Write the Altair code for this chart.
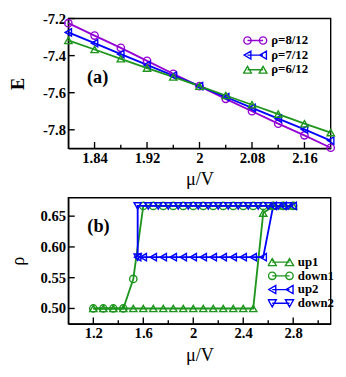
import altair as alt
import pandas as pd

# ---------------- Panel (a) data ----------------
mu_a = [1.80, 1.84, 1.88, 1.92, 1.96, 2.00, 2.04, 2.08, 2.12, 2.16, 2.20]
E_rho8 = [-7.225, -7.292, -7.358, -7.428, -7.498, -7.565, -7.633, -7.700, -7.767, -7.830, -7.897]
E_rho7 = [-7.275, -7.333, -7.392, -7.450, -7.508, -7.565, -7.623, -7.682, -7.740, -7.798, -7.858]
E_rho6 = [-7.318, -7.367, -7.417, -7.467, -7.515, -7.565, -7.615, -7.665, -7.715, -7.767, -7.815]
series_a = ["ρ=8/12", "ρ=7/12", "ρ=6/12"]
colors_a = ["#9400D3", "#0000FF", "#1E961E"]
xticks_a = [1.84, 1.92, 2.0, 2.08, 2.16]
xminor_a = [1.88, 1.96, 2.04, 2.12]
yticks_a = [-7.2, -7.4, -7.6, -7.8]

# ---------------- Panel (b) data ----------------
mu_up1 = [1.20, 1.28, 1.36, 1.44, 1.52, 1.60, 1.68, 1.76, 1.84, 1.92, 2.00, 2.08, 2.16, 2.24,
          2.32, 2.40, 2.48, 2.56, 2.64, 2.72, 2.80]
rho_up1 = [0.5, 0.5, 0.5, 0.5, 0.5, 0.5, 0.5, 0.5, 0.5, 0.5, 0.5, 0.5, 0.5, 0.5,
           0.5, 0.5, 0.5, 0.655, 0.6667, 0.6667, 0.6667]
mu_down1 = [2.80, 2.72, 2.64, 2.56, 2.48, 2.40, 2.32, 2.24, 2.16, 2.08, 2.00, 1.92, 1.84, 1.76,
            1.68, 1.60, 1.52, 1.44, 1.36, 1.28, 1.20]
rho_down1 = [0.6667, 0.6667, 0.6667, 0.6667, 0.6667, 0.6667, 0.6667, 0.6667, 0.6667, 0.6667,
             0.6667, 0.6667, 0.6667, 0.6667, 0.6667, 0.6667, 0.548, 0.5, 0.5, 0.5, 0.5]
mu_up2 = [1.555, 1.60, 1.68, 1.76, 1.84, 1.92, 2.00, 2.08, 2.16, 2.24, 2.32, 2.40, 2.48, 2.56,
          2.64, 2.72, 2.80]
rho_up2 = [0.5833, 0.5833, 0.5833, 0.5833, 0.5833, 0.5833, 0.5833, 0.5833, 0.5833, 0.5833,
           0.5833, 0.5833, 0.5833, 0.5833, 0.6667, 0.6667, 0.6667]
mu_down2 = [2.76, 2.68, 2.60, 2.52, 2.44, 2.36, 2.28, 2.20, 2.12, 2.04, 1.96, 1.88, 1.80, 1.72,
            1.64, 1.555, 1.555]
rho_down2 = [0.6667, 0.6667, 0.6667, 0.6667, 0.6667, 0.6667, 0.6667, 0.6667, 0.6667, 0.6667,
             0.6667, 0.6667, 0.6667, 0.6667, 0.6667, 0.6667, 0.5833]
series_b = ["up1", "down1", "up2", "down2"]
colors_b = ["#1E961E", "#1E961E", "#0000FF", "#0000FF"]
xticks_b = [1.2, 1.6, 2.0, 2.4, 2.8]
xminor_b = [1.4, 1.8, 2.2, 2.6, 3.0]
yticks_b = [0.50, 0.55, 0.60, 0.65]

FONT = "Liberation Serif"


# ---------------- legend symbol paths (line with a marker at both ends) ----------------
def f(v):
    return f"{v:.3f}"


def m_circle(cx, r):
    return (f"M{f(cx + r)},0A{f(r)},{f(r)} 0 1 1 {f(cx - r)},0"
            f"A{f(r)},{f(r)} 0 1 1 {f(cx + r)},0Z")


def m_up(cx, r):
    h = r * 0.866
    return f"M{f(cx)},{f(-h)}L{f(cx + r)},{f(h)}L{f(cx - r)},{f(h)}Z"


def m_down(cx, r):
    h = r * 0.866
    return f"M{f(cx)},{f(h)}L{f(cx + r)},{f(-h)}L{f(cx - r)},{f(-h)}Z"


def m_left(cx, r):
    h = r * 0.866
    return f"M{f(cx - h)},0L{f(cx + h)},{f(-r)}L{f(cx + h)},{f(r)}Z"


def sym(marker, c, r):
    return f"M{f(-c)},0L{f(c)},0" + marker(-c, r) + marker(c, r)


legend_paths_a = [sym(m_circle, 0.68, 0.32), sym(m_left, 0.68, 0.34), sym(m_up, 0.68, 0.34)]
legend_paths_b = [sym(m_up, 0.70, 0.33), sym(m_circle, 0.70, 0.30),
                  sym(m_left, 0.70, 0.33), sym(m_down, 0.70, 0.33)]

shapes_a = ["circle", "triangle-left", "triangle-up"]
shapes_b = ["triangle-up", "circle", "triangle-left", "triangle-down"]


def make_df(xs_list, ys_list, names, xname, yname, sname):
    rows = []
    for xs, ys, n in zip(xs_list, ys_list, names):
        for i, (x, y) in enumerate(zip(xs, ys)):
            rows.append({xname: x, yname: y, sname: n, "idx": i})
    return pd.DataFrame(rows)


df_a = make_df([mu_a, mu_a, mu_a], [E_rho8, E_rho7, E_rho6], series_a, "mu_a", "E", "sa")
df_b = make_df([mu_up1, mu_down1, mu_up2, mu_down2],
               [rho_up1, rho_down1, rho_up2, rho_down2], series_b, "mu_b", "rho", "sb")


def panel(df, xname, yname, sname, series, colors, shapes, legend_paths, xdom, ydom, xt, xm, yt,
          ylabel_expr, ytitle, ytitle_weight, w, h, tag, tag_xy, leg_xy, sym_size, clip_h):
    cscale = alt.Scale(domain=series, range=colors)
    xs = alt.Scale(domain=xdom, nice=False, zero=False)
    ys = alt.Scale(domain=ydom, nice=False, zero=False)

    lab_x = alt.Axis(orient="bottom", values=xt, labelExpr="format(datum.value, '~g')",
                     ticks=False, tickSize=0, labelPadding=2, title="μ/V", titlePadding=6,
                     grid=False)
    lab_y = alt.Axis(orient="left", values=yt, labelExpr=ylabel_expr, ticks=False, tickSize=0,
                     labelPadding=3, title=ytitle, titleFontWeight=ytitle_weight,
                     titleX=-45, titleY=h / 2, grid=False)

    leg = alt.Legend(orient="none", legendX=leg_xy[0], legendY=leg_xy[1], title=None,
                     padding=0, labelFont=FONT, labelFontSize=14, labelFontWeight="bold",
                     labelColor="black", symbolSize=sym_size, clipHeight=clip_h,
                     rowPadding=0, labelOffset=4, symbolStrokeWidth=1.5,
                     symbolFillColor="transparent", symbolOpacity=1)
    color = alt.Color(f"{sname}:N", scale=cscale, legend=leg)

    X = alt.X(f"{xname}:Q", scale=xs, axis=lab_x)
    Y = alt.Y(f"{yname}:Q", scale=ys, axis=lab_y)

    # inward tick marks, drawn from the tick arrays through the panel scales
    txm = pd.DataFrame({xname: xt})
    txn = pd.DataFrame({xname: xm})
    ty = pd.DataFrame({yname: yt})
    xticks_major = alt.Chart(txm).mark_rule(color="black", strokeWidth=1.5).encode(
        x=X, y=alt.value(h), y2=alt.value(h - 7))
    xticks_minor = alt.Chart(txn).mark_rule(color="black", strokeWidth=1.5).encode(
        x=X, y=alt.value(h), y2=alt.value(h - 4))
    yticks_major = alt.Chart(ty).mark_rule(color="black", strokeWidth=1.5).encode(
        y=Y, x=alt.value(0), x2=alt.value(7))

    lines = alt.Chart(df).mark_line(strokeWidth=2, clip=False).encode(
        x=X, y=Y, color=color, detail=f"{sname}:N", order="idx:Q")

    layers = [xticks_major, xticks_minor, yticks_major, lines]
    for i, s in enumerate(series):
        pts = alt.Chart(df).transform_filter(alt.datum[sname] == s).mark_point(
            shape=shapes[i], filled=False, size=64, strokeWidth=1.5, opacity=1, clip=False
        ).encode(x=X, y=Y, color=color)
        layers.append(pts)

    tag_layer = alt.Chart(pd.DataFrame({"t": [tag]})).mark_text(
        font=FONT, fontSize=20, fontWeight="bold", align="center", baseline="middle",
        color="black"
    ).encode(x=alt.value(tag_xy[0]), y=alt.value(tag_xy[1]), text="t:N")
    layers.append(tag_layer)

    legend_layer = alt.Chart(df).mark_point(
        filled=False, opacity=0, strokeWidth=1.5
    ).encode(
        x=X, y=Y, color=color,
        shape=alt.Shape(f"{sname}:N", scale=alt.Scale(domain=series, range=legend_paths),
                        legend=leg))
    layers.append(legend_layer)

    return alt.layer(*layers).properties(width=w, height=h)


top = panel(df_a, "mu_a", "E", "sa", series_a, colors_a, shapes_a, legend_paths_a,
            [1.8, 2.2], [-7.9, -7.2], xticks_a, xminor_a, yticks_a,
            "replace(format(datum.value, '.1f'), '\u2212', '-')", "E", "bold",
            287, 142, "(a)", (32, 64), (191, 16), 625, 16)

bottom = panel(df_b, "mu_b", "rho", "sb", series_b, colors_b, shapes_b, legend_paths_b,
               [1.0, 3.1], [0.475, 0.68], xticks_b, xminor_b, yticks_b,
               "format(datum.value, '.2f')", "ρ", "normal",
               287, 138, "(b)", (33, 31), (218, 63), 729, 15)

chart = alt.vconcat(top, bottom, spacing=8).resolve_scale(
    color="independent", shape="independent"
).resolve_legend(color="independent", shape="independent").properties(
    padding={"left": 0, "top": -15, "right": 0, "bottom": 0}
).configure_view(stroke="black", strokeWidth=1.5).configure_axis(
    labelFont=FONT, labelFontSize=16, labelFontWeight="bold", labelColor="black",
    titleFont=FONT, titleFontSize=20, titleFontWeight="normal", titleColor="black",
    tickColor="black", tickWidth=1.5, domainColor="black", domainWidth=1.5)

chart.save("out.html", embed_options={"renderer": "svg", "actions": False})
